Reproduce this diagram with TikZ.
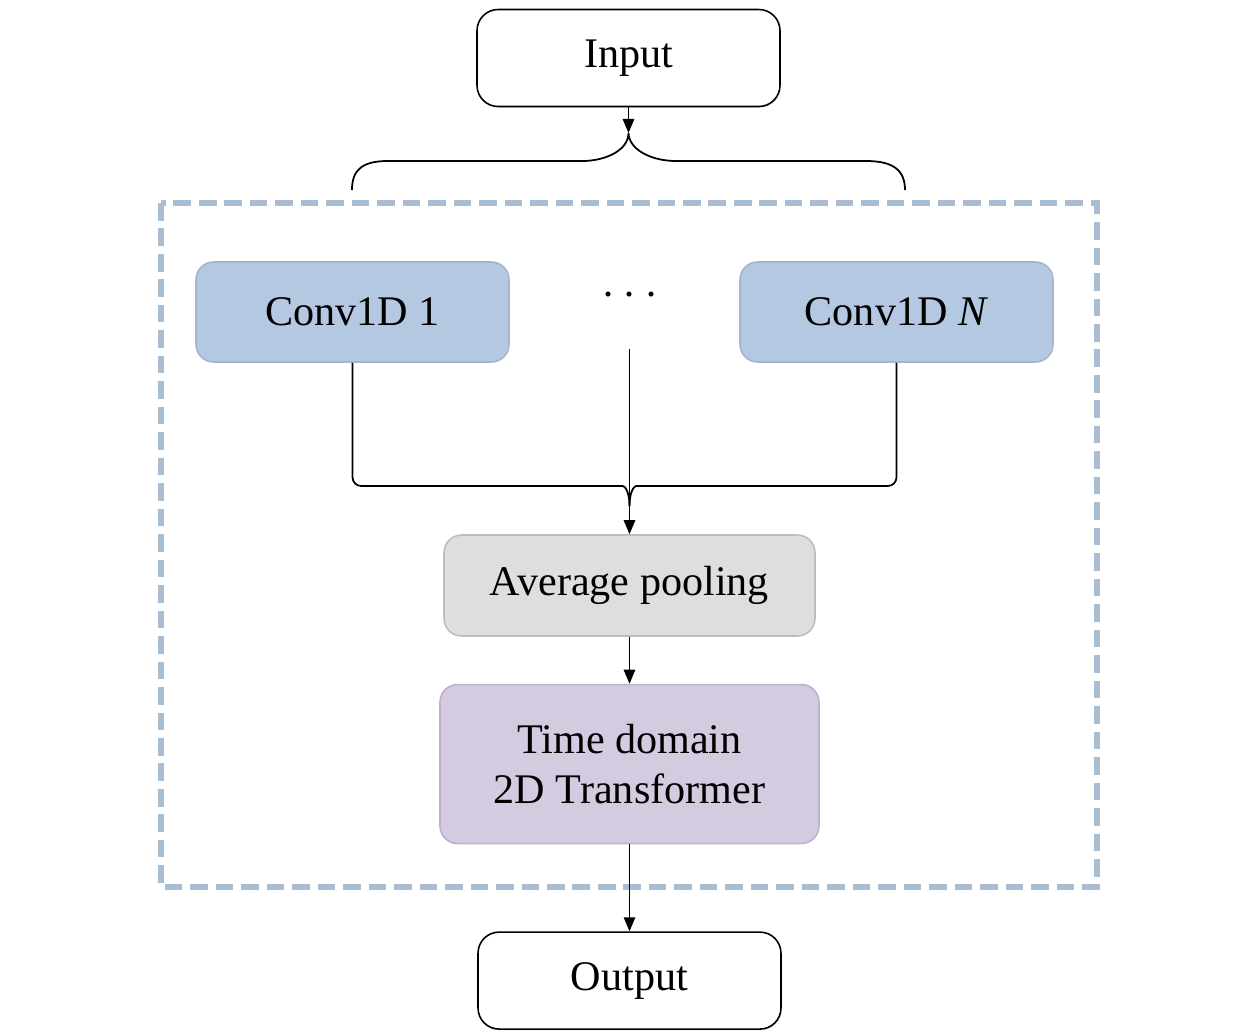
\documentclass[tikz,border=0pt]{standalone}
\usepackage{fontspec}
\setmainfont{Liberation Serif}
\usetikzlibrary{arrows.meta,positioning,shadows}

\definecolor{convfill}{HTML}{B4C8E2}
\definecolor{convedge}{HTML}{A2B6D0}
\definecolor{poolfill}{HTML}{DEDEDE}
\definecolor{pooledge}{HTML}{BDBDBD}
\definecolor{transfill}{HTML}{D4CBE0}
\definecolor{transedge}{HTML}{BCB0CB}
\definecolor{framecol}{HTML}{A8BCD2}

\begin{document}
\begin{tikzpicture}[
  x=0.02cm, y=-0.02cm,
  box/.style={rectangle, draw, rounded corners=10pt, line width=0.9pt, inner sep=0pt, font=\fontsize{24}{28.5}\selectfont, align=center},
  io/.style={box, fill=white, rounded corners=12pt, minimum width=6.06cm, minimum height=1.94cm, drop shadow={shadow xshift=0.5pt, shadow yshift=-0.7pt, opacity=0.25}},
  conv/.style={box, draw=convedge, fill=convfill, minimum width=6.26cm, minimum height=2.0cm},
  pool/.style={box, draw=pooledge, fill=poolfill, minimum width=7.42cm, minimum height=2.02cm},
  trans/.style={box, draw=transedge, fill=transfill, minimum width=7.58cm, minimum height=3.18cm},
  frame/.style={draw=framecol, line width=3pt, dash pattern=on 10pt off 4.5pt},
  link/.style={line width=1pt},
  arr/.style={-{Triangle[length=8pt, width=6.5pt]}, line width=1pt},
]
\useasboundingbox (0,0) rectangle (1259,1032);

% dashed block around the branch part
\draw[frame] (161,203) rectangle (1097,887);

\node[io] (input) at (628.5,58) {Input};
\node[conv] (conv1) at (352.5,312) {Conv1D 1};
\node[conv] (convN) at (896.5,312) {Conv1D \textit{N}};
\node[font=\fontsize{24}{28}\selectfont, inner sep=0pt] (dots) at (630,300) {\textperiodcentered\hspace{4pt}\textperiodcentered\hspace{4pt}\textperiodcentered};
\node[pool] (pool) at (629.5,585.5) {Average pooling};
\node[trans, below=0.94cm of pool] (trans) {Time domain\\2D Transformer};
\node[io, below=1.74cm of trans] (output) {Output};

\coordinate (split) at (628.5,133);
\coordinate (braceL) at (352,190);
\coordinate (braceR) at (905,190);
\coordinate (midtop) at (629.5,349);
\coordinate (merge) at (629.5,506);

% input branches out
\draw[arr] (input) -- (split);
\draw[link] (braceL) .. controls (352,170) and (362,161) .. (388,161) -- (582,161)
  .. controls (606,161) and (628.5,150) .. (split)
  .. controls (629,150) and (652,161) .. (676,161) -- (866,161)
  .. controls (893,161) and (905,170) .. (braceR);

% branches merge again
\draw[link] (conv1.south) [rounded corners=5pt] -- (352.5,486) -- (614,486) [sharp corners]
  .. controls (625,486) and (629.5,492) .. (merge);
\draw[link] (convN.south) [rounded corners=5pt] -- (896.5,486) -- (645,486) [sharp corners]
  .. controls (634,486) and (629.5,492) .. (merge);
\draw[arr] (midtop) -- (pool.north);

\draw[arr] (pool) -- (trans);
\draw[arr] (trans) -- (output);
\end{tikzpicture}
\end{document}
